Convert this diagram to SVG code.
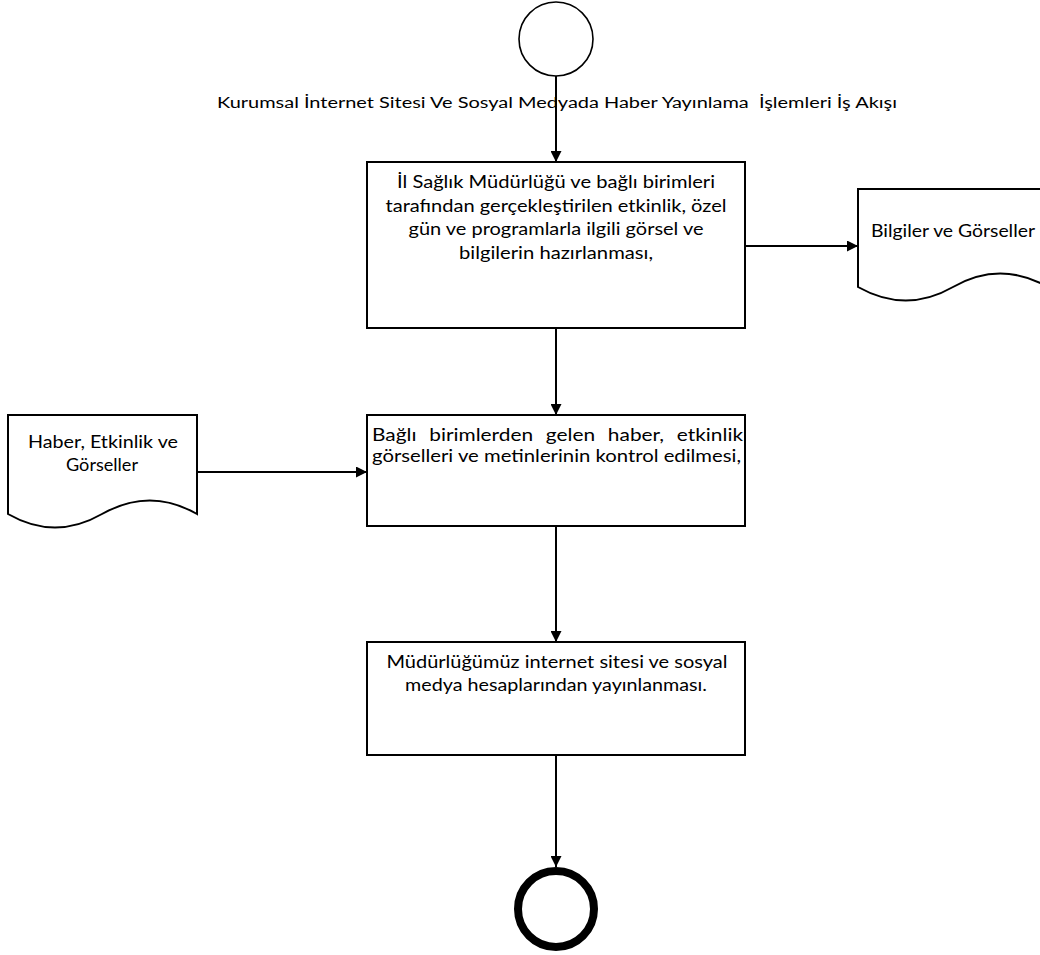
<svg xmlns="http://www.w3.org/2000/svg" width="1040" height="955" viewBox="0 0 1040 955">
  <defs>
    <marker id="arrow" viewBox="0 0 10 10" refX="10" refY="5" markerWidth="11" markerHeight="11" markerUnits="userSpaceOnUse" orient="auto">
      <path d="M0,0 L10,5 L0,10 Z" fill="#000"/>
    </marker>
    <style>
      .shape { fill: #fff; stroke: #000; stroke-width: 2; }
      .conn { fill: none; stroke: #000; stroke-width: 2; marker-end: url(#arrow); }
      .txt { font-family: Lato, "Liberation Sans", sans-serif; font-size: 17px; fill: #000; }
      .title { font-family: Lato, "Liberation Sans", sans-serif; font-size: 15.5px; fill: #000; white-space: pre; }
    </style>
  </defs>

  <rect width="1040" height="955" fill="#fff"/>

  <!-- title caption (drawn under the first connector) -->
  <text class="title" x="217" y="108" textLength="680" lengthAdjust="spacingAndGlyphs" xml:space="preserve">Kurumsal İnternet Sitesi Ve Sosyal Medyada Haber Yayınlama  İşlemleri İş Akışı</text>

  <g id="connectors">
    <path class="conn" d="M556,76 L556,162"/>
    <path class="conn" d="M556,328 L556,415"/>
    <path class="conn" d="M556,526 L556,642"/>
    <path class="conn" d="M556,755 L556,867"/>
    <path class="conn" d="M745,246 L858,246"/>
    <path class="conn" d="M197,472 L367,472"/>
  </g>

  <g id="start">
    <circle cx="556" cy="39" r="37" fill="#fff" stroke="#000" stroke-width="1.6"/>
  </g>

  <g id="step1">
    <rect class="shape" x="367" y="162" width="378" height="166"/>
    <text class="txt" text-anchor="middle" x="556" y="188" textLength="318" lengthAdjust="spacingAndGlyphs">İl Sağlık Müdürlüğü ve bağlı birimleri</text>
    <text class="txt" text-anchor="middle" x="556" y="211.5" textLength="341" lengthAdjust="spacingAndGlyphs">tarafından gerçekleştirilen etkinlik, özel</text>
    <text class="txt" text-anchor="middle" x="556" y="235" textLength="295" lengthAdjust="spacingAndGlyphs">gün ve programlarla ilgili görsel ve</text>
    <text class="txt" text-anchor="middle" x="556" y="258.5" textLength="194" lengthAdjust="spacingAndGlyphs">bilgilerin hazırlanması,</text>
  </g>

  <g id="doc-bilgiler">
    <path class="shape" d="M858,189 L1048,189 L1048,287 Q1000,260 953,287 Q906,314 858,287 Z"/>
    <text class="txt" x="871" y="237" textLength="164" lengthAdjust="spacingAndGlyphs">Bilgiler ve Görseller</text>
  </g>

  <g id="doc-haber">
    <path class="shape" d="M8,415 L197,415 L197,514 Q150,487 102,514 Q55,541 8,514 Z"/>
    <text class="txt" text-anchor="middle" x="103" y="448" textLength="150" lengthAdjust="spacingAndGlyphs">Haber, Etkinlik ve</text>
    <text class="txt" text-anchor="middle" x="102" y="471" textLength="72" lengthAdjust="spacingAndGlyphs">Görseller</text>
  </g>

  <g id="step2">
    <rect class="shape" x="367" y="415" width="378" height="111"/>
    <text class="txt" x="372" y="441" word-spacing="6" textLength="371" lengthAdjust="spacingAndGlyphs">Bağlı birimlerden gelen haber, etkinlik</text>
    <text class="txt" x="372" y="462" textLength="369" lengthAdjust="spacingAndGlyphs">görselleri ve metinlerinin kontrol edilmesi,</text>
  </g>

  <g id="step3">
    <rect class="shape" x="367" y="642" width="378" height="113"/>
    <text class="txt" text-anchor="middle" x="557" y="668" textLength="341" lengthAdjust="spacingAndGlyphs">Müdürlüğümüz internet sitesi ve sosyal</text>
    <text class="txt" text-anchor="middle" x="556" y="691" textLength="302" lengthAdjust="spacingAndGlyphs">medya hesaplarından yayınlanması.</text>
  </g>

  <g id="end">
    <circle cx="556" cy="909" r="38" fill="#fff" stroke="#000" stroke-width="8"/>
  </g>
</svg>
